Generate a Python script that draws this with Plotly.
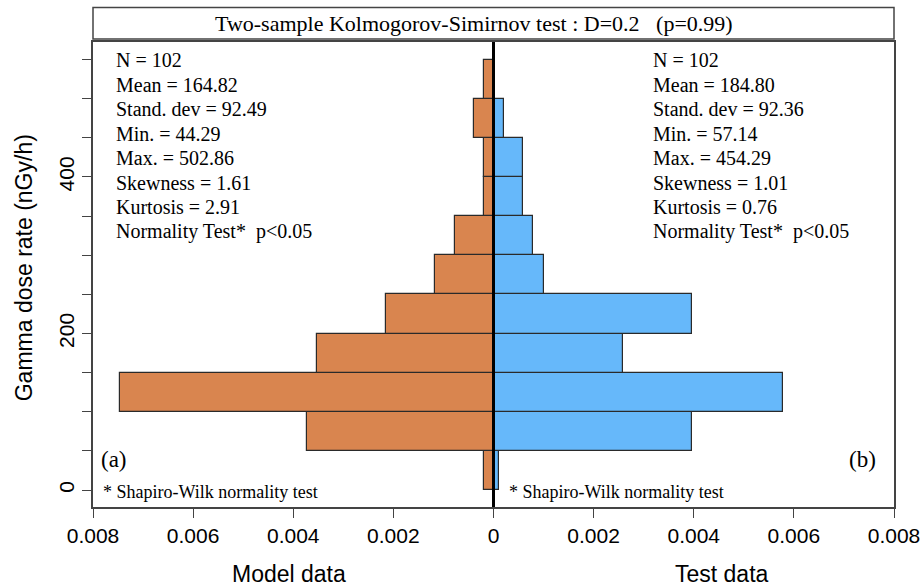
import plotly.graph_objects as go

# ---- data ----
bin_lower = [0, 50, 100, 150, 200, 250, 300, 350, 400, 450, 500]
bin_width = 50
model_density = [0.00019, 0.00373, 0.00746, 0.00353, 0.00215, 0.00117, 0.00077, 0.00019, 0.00019, 0.00039, 0.00019]
test_density = [0.00010, 0.00396, 0.00578, 0.00258, 0.00396, 0.00101, 0.00079, 0.00059, 0.00059, 0.00021, 0.0]

model_stats = ["N = 102", "Mean = 164.82", "Stand. dev = 92.49", "Min. = 44.29",
               "Max. = 502.86", "Skewness = 1.61", "Kurtosis = 2.91", "Normality Test*  p<0.05"]
test_stats = ["N = 102", "Mean = 184.80", "Stand. dev = 92.36", "Min. = 57.14",
              "Max. = 454.29", "Skewness = 1.01", "Kurtosis = 0.76", "Normality Test*  p<0.05"]

x_tick_vals = [-0.008, -0.006, -0.004, -0.002, 0, 0.002, 0.004, 0.006, 0.008]
x_tick_text = ["0.008", "0.006", "0.004", "0.002", "0", "0.002", "0.004", "0.006", "0.008"]
y_tick_vals = list(range(0, 551, 50))
y_tick_text = [str(v) if v in (0, 200, 400) else "" for v in y_tick_vals]

title_text = "Two-sample Kolmogorov-Simirnov test : D=0.2   (p=0.99)"

# ---- layout helpers ----
W, H = 923, 586
L, R, T, B = 92.7, 893.7, 42, 507

def px(p):
    return (p - L) / (R - L)

def py(p):
    return (B - p) / (B - T)

centers = [b + bin_width / 2 for b in bin_lower]
ORANGE = "#D9854F"
BLUE = "#66B8FA"
EDGE = "#2a2a2a"
SERIF = "Liberation Serif, Times New Roman, serif"
SANS = "Liberation Sans, Arial, sans-serif"

fig = go.Figure()
fig.add_trace(go.Bar(orientation="h", y=centers, x=[-v for v in model_density], width=bin_width,
                     marker=dict(color=ORANGE, line=dict(color=EDGE, width=1.2)), showlegend=False))
fig.add_trace(go.Bar(orientation="h", y=centers, x=test_density, width=bin_width,
                     marker=dict(color=BLUE, line=dict(color=EDGE, width=1.2)), showlegend=False))

fig.update_layout(
    width=W, height=H,
    margin=dict(l=L, r=W - R, t=T, b=H - B, autoexpand=False),
    paper_bgcolor="white", plot_bgcolor="white",
    barmode="overlay", bargap=0,
    xaxis=dict(range=[-0.008, 0.008], tickvals=x_tick_vals, ticktext=x_tick_text, automargin=False,
               showgrid=False, zeroline=False, showline=True, linecolor="#444", linewidth=1.5,
               mirror=True, ticks="outside", ticklen=9, tickcolor="#444",
               tickfont=dict(family=SANS, size=21, color="black")),
    yaxis=dict(range=[-21.7, 572.5], tickvals=y_tick_vals, ticktext=y_tick_text, automargin=False,
               showgrid=False, zeroline=False, showline=True, linecolor="#444", linewidth=1.5,
               mirror=True, ticks="outside", ticklen=9, tickcolor="#444", tickangle=-90,
               tickfont=dict(family=SANS, size=21, color="black")),
)

# center line
fig.add_shape(type="line", xref="x", yref="paper", x0=0, x1=0, y0=0, y1=1,
              line=dict(color="black", width=3), layer="above")

# title box
fig.add_shape(type="rect", xref="paper", yref="paper", x0=0, x1=1, y0=py(39), y1=py(7.5),
              line=dict(color="#444", width=1.5), fillcolor="white")
fig.add_annotation(xref="paper", yref="paper", x=px(474), y=py(23), text=title_text, showarrow=False,
                   xanchor="center", yanchor="middle", font=dict(family=SERIF, size=22, color="black"))

# stats text
for i, (a, b) in enumerate(zip(model_stats, test_stats)):
    yy = py(60 + 24.5 * i)
    fig.add_annotation(xref="paper", yref="paper", x=px(114), y=yy, text=a, showarrow=False,
                       xanchor="left", yanchor="middle", font=dict(family=SERIF, size=20, color="black"))
    fig.add_annotation(xref="paper", yref="paper", x=px(651), y=yy, text=b, showarrow=False,
                       xanchor="left", yanchor="middle", font=dict(family=SERIF, size=20, color="black"))

# panel labels
fig.add_annotation(xref="paper", yref="paper", x=px(99), y=py(459), text="(a)", showarrow=False,
                   xanchor="left", yanchor="middle", font=dict(family=SERIF, size=23, color="black"))
fig.add_annotation(xref="paper", yref="paper", x=px(878), y=py(459), text="(b)", showarrow=False,
                   xanchor="right", yanchor="middle", font=dict(family=SERIF, size=23, color="black"))

# footnotes
for xx in (101, 507):
    fig.add_annotation(xref="paper", yref="paper", x=px(xx), y=py(492), text="* Shapiro-Wilk normality test",
                       showarrow=False, xanchor="left", yanchor="middle",
                       font=dict(family=SERIF, size=18, color="black"))

# axis titles
fig.add_annotation(xref="paper", yref="paper", x=px(24), y=py(268), text="Gamma dose rate (nGy/h)",
                   textangle=-90, showarrow=False, xanchor="center", yanchor="middle",
                   font=dict(family=SANS, size=23, color="black"))
fig.add_annotation(xref="paper", yref="paper", x=px(289), y=py(574), text="Model data", showarrow=False,
                   xanchor="center", yanchor="middle", font=dict(family=SANS, size=23, color="black"))
fig.add_annotation(xref="paper", yref="paper", x=px(722), y=py(574), text="Test data", showarrow=False,
                   xanchor="center", yanchor="middle", font=dict(family=SANS, size=23, color="black"))

fig.write_html("out.html")
